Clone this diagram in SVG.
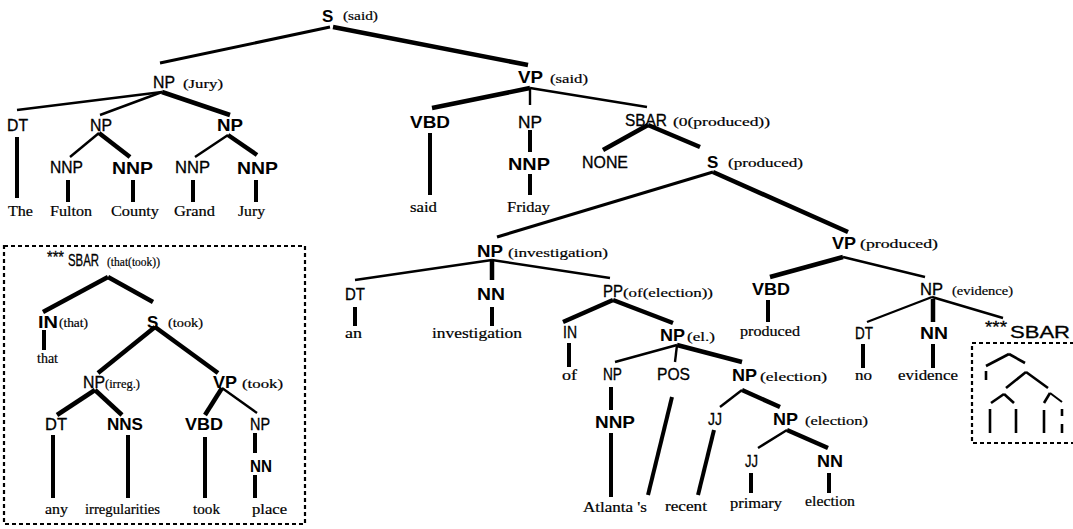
<svg xmlns="http://www.w3.org/2000/svg" width="1073" height="529" viewBox="0 0 1073 529">
<style>
  .e line { stroke: #000; stroke-linecap: butt; }
  .t { stroke-width: 2.4; }
  .m { stroke-width: 3; }
  .k { stroke-width: 4.5; }
  .v { stroke-width: 4; }
  .th { stroke-width: 2; }
  .tk { stroke-width: 2.6; }
  text { fill: #000; }
  .l { font-family: "Liberation Sans", Arial, sans-serif; font-size: 16px; stroke: #000; stroke-width: 0.3; }
  .b { font-family: "Liberation Sans", Arial, sans-serif; font-size: 17px; font-weight: bold; }
  .a { font-family: "Liberation Serif", "Times New Roman", serif; font-size: 13px; stroke: #000; stroke-width: 0.2; }
  .w { font-family: "Liberation Serif", "Times New Roman", serif; font-size: 14px; stroke: #000; stroke-width: 0.2; }
  .box { fill: none; stroke: #000; stroke-width: 2.2; stroke-dasharray: 4 3; }
</style>
<rect width="1073" height="529" fill="#fff"/>

<!-- main tree connectors -->
<g id="connectors" class="e">
  <line class="m" x1="330" y1="27" x2="160" y2="63"/>
  <line class="k" x1="333" y1="27" x2="528" y2="65"/>
  <line class="t" x1="162" y1="92" x2="17" y2="110"/>
  <line class="t" x1="162" y1="92" x2="100" y2="115"/>
  <line class="k" x1="162" y1="92" x2="230" y2="115"/>
  <line class="v" x1="17" y1="137" x2="17" y2="198"/>
  <line class="t" x1="99" y1="133" x2="70" y2="157"/>
  <line class="k" x1="99" y1="133" x2="130" y2="157"/>
  <line class="t" x1="228" y1="135" x2="195" y2="157"/>
  <line class="k" x1="228" y1="135" x2="257" y2="155"/>
  <line class="v" x1="68" y1="180" x2="68" y2="202"/>
  <line class="v" x1="133" y1="180" x2="133" y2="202"/>
  <line class="v" x1="193" y1="180" x2="193" y2="202"/>
  <line class="v" x1="256" y1="180" x2="256" y2="202"/>

  <line class="k" x1="530" y1="88" x2="432" y2="108"/>
  <line class="t" x1="530" y1="88" x2="530" y2="105"/>
  <line class="t" x1="530" y1="88" x2="647" y2="107"/>
  <line class="v" x1="430" y1="133" x2="430" y2="195"/>
  <line class="v" x1="530" y1="130" x2="530" y2="152"/>
  <line class="v" x1="530" y1="174" x2="530" y2="195"/>
  <line class="k" x1="648" y1="125" x2="603" y2="150"/>
  <line class="k" x1="648" y1="125" x2="700" y2="147"/>

  <line class="m" x1="713" y1="172" x2="497" y2="237"/>
  <line class="k" x1="713" y1="172" x2="848" y2="232"/>

  <line class="t" x1="492" y1="260" x2="355" y2="280"/>
  <line class="k" x1="492" y1="260" x2="492" y2="280"/>
  <line class="t" x1="492" y1="260" x2="610" y2="278"/>
  <line class="v" x1="355" y1="307" x2="355" y2="326"/>
  <line class="v" x1="492" y1="307" x2="492" y2="326"/>
  <line class="k" x1="613" y1="300" x2="563" y2="322"/>
  <line class="k" x1="613" y1="300" x2="673" y2="323"/>
  <line class="v" x1="569" y1="343" x2="569" y2="367"/>
  <line class="t" x1="677" y1="345" x2="615" y2="362"/>
  <line class="t" x1="677" y1="345" x2="675" y2="362"/>
  <line class="k" x1="677" y1="345" x2="742" y2="362"/>
  <line class="v" x1="611" y1="387" x2="611" y2="410"/>
  <line class="v" x1="611" y1="433" x2="611" y2="497"/>
  <line class="v" x1="672" y1="397" x2="648" y2="495"/>
  <line class="t" x1="742" y1="390" x2="720" y2="407"/>
  <line class="k" x1="742" y1="390" x2="780" y2="407"/>
  <line class="v" x1="714" y1="430" x2="698" y2="495"/>
  <line class="t" x1="787" y1="430" x2="758" y2="448"/>
  <line class="k" x1="787" y1="430" x2="828" y2="448"/>
  <line class="v" x1="751" y1="473" x2="751" y2="493"/>
  <line class="v" x1="829" y1="473" x2="829" y2="493"/>

  <line class="k" x1="843" y1="257" x2="770" y2="277"/>
  <line class="t" x1="843" y1="257" x2="925" y2="277"/>
  <line class="v" x1="768" y1="300" x2="768" y2="322"/>
  <line class="t" x1="932" y1="297" x2="867" y2="322"/>
  <line class="k" x1="933" y1="299" x2="933" y2="322"/>
  <line class="t" x1="932" y1="297" x2="1003" y2="318"/>
  <line class="v" x1="863" y1="344" x2="863" y2="368"/>
  <line class="v" x1="933" y1="344" x2="933" y2="368"/>
</g>

<!-- main tree nodes -->
<g id="n-s-said"><text class="b" x="322" y="22" font-size="19">S</text><text class="a" x="343" y="20" textLength="35" lengthAdjust="spacingAndGlyphs">(said)</text></g>
<g id="n-np-jury"><text class="l" x="153" y="88" textLength="22" lengthAdjust="spacingAndGlyphs">NP</text><text class="a" x="183" y="88" textLength="40" lengthAdjust="spacingAndGlyphs">(Jury)</text></g>
<g id="n-dt-the"><text class="l" x="7" y="131" textLength="21" lengthAdjust="spacingAndGlyphs">DT</text></g>
<g id="n-np-fulton"><text class="l" x="90" y="131" textLength="22" lengthAdjust="spacingAndGlyphs">NP</text></g>
<g id="n-np-grand"><text class="b" x="217" y="131" textLength="26" lengthAdjust="spacingAndGlyphs">NP</text></g>
<g id="n-nnp-fulton"><text class="l" x="50" y="173" textLength="33" lengthAdjust="spacingAndGlyphs">NNP</text></g>
<g id="n-nnp-county"><text class="b" x="112" y="174" textLength="41" lengthAdjust="spacingAndGlyphs">NNP</text></g>
<g id="n-nnp-grand"><text class="l" x="175" y="173" textLength="35" lengthAdjust="spacingAndGlyphs">NNP</text></g>
<g id="n-nnp-jury"><text class="b" x="237" y="174" textLength="41" lengthAdjust="spacingAndGlyphs">NNP</text></g>
<g id="w-the"><text class="w" x="8" y="216" textLength="25" lengthAdjust="spacingAndGlyphs">The</text></g>
<g id="w-fulton"><text class="w" x="50" y="216" textLength="42" lengthAdjust="spacingAndGlyphs">Fulton</text></g>
<g id="w-county"><text class="w" x="111" y="216" textLength="48" lengthAdjust="spacingAndGlyphs">County</text></g>
<g id="w-grand"><text class="w" x="174" y="216" textLength="41" lengthAdjust="spacingAndGlyphs">Grand</text></g>
<g id="w-jury"><text class="w" x="238" y="216" textLength="27" lengthAdjust="spacingAndGlyphs">Jury</text></g>

<g id="n-vp-said"><text class="b" x="518" y="83" textLength="25" lengthAdjust="spacingAndGlyphs">VP</text><text class="a" x="550" y="83" textLength="38" lengthAdjust="spacingAndGlyphs">(said)</text></g>
<g id="n-vbd-said"><text class="b" x="410" y="128" textLength="40" lengthAdjust="spacingAndGlyphs">VBD</text></g>
<g id="n-np-friday"><text class="l" x="518" y="128" textLength="24" lengthAdjust="spacingAndGlyphs">NP</text></g>
<g id="n-sbar-produced"><text class="l" x="625" y="126" textLength="42" lengthAdjust="spacingAndGlyphs">SBAR</text><text class="a" x="673" y="126" textLength="97" lengthAdjust="spacingAndGlyphs">(0(produced))</text></g>
<g id="w-said"><text class="w" x="410" y="212" textLength="27" lengthAdjust="spacingAndGlyphs">said</text></g>
<g id="n-nnp-friday"><text class="b" x="508" y="170" textLength="42" lengthAdjust="spacingAndGlyphs">NNP</text></g>
<g id="w-friday"><text class="w" x="507" y="212" textLength="43" lengthAdjust="spacingAndGlyphs">Friday</text></g>
<g id="n-none"><text class="l" x="582" y="168" textLength="46" lengthAdjust="spacingAndGlyphs">NONE</text></g>
<g id="n-s-produced"><text class="b" x="707" y="168" font-size="19">S</text><text class="a" x="728" y="167" textLength="75" lengthAdjust="spacingAndGlyphs">(produced)</text></g>

<g id="n-np-investigation"><text class="b" x="477" y="257" textLength="26" lengthAdjust="spacingAndGlyphs">NP</text><text class="a" x="508" y="257" textLength="100" lengthAdjust="spacingAndGlyphs">(investigation)</text></g>
<g id="n-dt-an"><text class="l" x="345" y="300" textLength="20" lengthAdjust="spacingAndGlyphs">DT</text></g>
<g id="n-nn-investigation"><text class="b" x="477" y="300" textLength="28" lengthAdjust="spacingAndGlyphs">NN</text></g>
<g id="n-pp"><text class="l" x="603" y="297" textLength="20" lengthAdjust="spacingAndGlyphs">PP</text><text class="a" x="623" y="297" textLength="90" lengthAdjust="spacingAndGlyphs">(of(election))</text></g>
<g id="w-an"><text class="w" x="345" y="338" textLength="17" lengthAdjust="spacingAndGlyphs">an</text></g>
<g id="w-investigation"><text class="w" x="432" y="338" textLength="90" lengthAdjust="spacingAndGlyphs">investigation</text></g>
<g id="n-in-of"><text class="l" x="563" y="338" textLength="14" lengthAdjust="spacingAndGlyphs">IN</text></g>
<g id="n-np-el"><text class="b" x="660" y="341" textLength="25" lengthAdjust="spacingAndGlyphs">NP</text><text class="a" x="687" y="341" textLength="28" lengthAdjust="spacingAndGlyphs">(el.)</text></g>
<g id="w-of"><text class="w" x="562" y="380" textLength="15" lengthAdjust="spacingAndGlyphs">of</text></g>
<g id="n-np-atlanta"><text class="l" x="603" y="380" textLength="19" lengthAdjust="spacingAndGlyphs">NP</text></g>
<g id="n-pos"><text class="l" x="657" y="380" textLength="33" lengthAdjust="spacingAndGlyphs">POS</text></g>
<g id="n-np-election1"><text class="b" x="732" y="381" textLength="25" lengthAdjust="spacingAndGlyphs">NP</text><text class="a" x="760" y="381" textLength="67" lengthAdjust="spacingAndGlyphs">(election)</text></g>
<g id="n-nnp-atlanta"><text class="b" x="595" y="428" textLength="40" lengthAdjust="spacingAndGlyphs">NNP</text></g>
<g id="n-jj-recent"><text class="l" x="708" y="425" textLength="14" lengthAdjust="spacingAndGlyphs">JJ</text></g>
<g id="n-np-election2"><text class="b" x="773" y="425" textLength="25" lengthAdjust="spacingAndGlyphs">NP</text><text class="a" x="805" y="425" textLength="63" lengthAdjust="spacingAndGlyphs">(election)</text></g>
<g id="n-jj-primary"><text class="l" x="745" y="467" textLength="13" lengthAdjust="spacingAndGlyphs">JJ</text></g>
<g id="n-nn-election"><text class="b" x="817" y="467" textLength="26" lengthAdjust="spacingAndGlyphs">NN</text></g>
<g id="w-atlanta"><text class="w" x="583" y="512" textLength="64" lengthAdjust="spacingAndGlyphs">Atlanta 's</text></g>
<g id="w-recent"><text class="w" x="665" y="511" textLength="42" lengthAdjust="spacingAndGlyphs">recent</text></g>
<g id="w-primary"><text class="w" x="730" y="508" textLength="52" lengthAdjust="spacingAndGlyphs">primary</text></g>
<g id="w-election"><text class="w" x="805" y="506" textLength="50" lengthAdjust="spacingAndGlyphs">election</text></g>

<g id="n-vp-produced"><text class="b" x="832" y="249" textLength="24" lengthAdjust="spacingAndGlyphs">VP</text><text class="a" x="860" y="248" textLength="78" lengthAdjust="spacingAndGlyphs">(produced)</text></g>
<g id="n-vbd-produced"><text class="b" x="752" y="295" textLength="38" lengthAdjust="spacingAndGlyphs">VBD</text></g>
<g id="n-np-evidence"><text class="l" x="920" y="295" textLength="23" lengthAdjust="spacingAndGlyphs">NP</text><text class="a" x="952" y="295" textLength="61" lengthAdjust="spacingAndGlyphs">(evidence)</text></g>
<g id="w-produced"><text class="w" x="740" y="336" textLength="60" lengthAdjust="spacingAndGlyphs">produced</text></g>
<g id="n-dt-no"><text class="l" x="855" y="339" textLength="18" lengthAdjust="spacingAndGlyphs">DT</text></g>
<g id="n-nn-evidence"><text class="b" x="920" y="339" textLength="28" lengthAdjust="spacingAndGlyphs">NN</text></g>
<g id="n-sbar-star"><text class="l" x="985" y="333" textLength="22" lengthAdjust="spacingAndGlyphs">***</text><text class="l" x="1010" y="338" font-size="20" textLength="60" lengthAdjust="spacingAndGlyphs">SBAR</text></g>
<g id="w-no"><text class="w" x="855" y="380" textLength="17" lengthAdjust="spacingAndGlyphs">no</text></g>
<g id="w-evidence"><text class="w" x="898" y="380" textLength="60" lengthAdjust="spacingAndGlyphs">evidence</text></g>

<!-- inset: expanded SBAR -->
<rect class="box" x="4" y="246" width="301" height="278"/>
<g id="inset">
  <g id="inset-connectors" class="e">
    <line class="k" x1="108" y1="277" x2="43" y2="312"/>
    <line class="k" x1="108" y1="277" x2="153" y2="302"/>
    <line class="v" x1="44" y1="330" x2="44" y2="350"/>
    <line class="k" x1="155" y1="327" x2="98" y2="373"/>
    <line class="k" x1="155" y1="327" x2="218" y2="373"/>
    <line class="k" x1="95" y1="390" x2="57" y2="415"/>
    <line class="k" x1="95" y1="390" x2="122" y2="415"/>
    <line class="k" x1="222" y1="388" x2="205" y2="415"/>
    <line class="t" x1="222" y1="388" x2="257" y2="413"/>
    <line class="v" x1="53" y1="435" x2="53" y2="498"/>
    <line class="v" x1="128" y1="435" x2="128" y2="498"/>
    <line class="v" x1="205" y1="437" x2="205" y2="498"/>
    <line class="v" x1="255" y1="433" x2="255" y2="453"/>
    <line class="v" x1="255" y1="475" x2="255" y2="498"/>
  </g>
  <g id="i-sbar"><text class="l" x="47" y="263" font-size="12" textLength="17" lengthAdjust="spacingAndGlyphs">***</text><text class="l" x="68" y="266" font-size="12" textLength="31" lengthAdjust="spacingAndGlyphs">SBAR</text><text class="a" x="107" y="266" font-size="12" textLength="53" lengthAdjust="spacingAndGlyphs">(that(took))</text></g>
  <g id="i-in"><text class="b" x="38" y="328" textLength="20" lengthAdjust="spacingAndGlyphs">IN</text><text class="a" x="59" y="327" textLength="29" lengthAdjust="spacingAndGlyphs">(that)</text></g>
  <g id="i-s"><text class="b" x="147" y="328" font-size="18">S</text><text class="a" x="168" y="327" textLength="35" lengthAdjust="spacingAndGlyphs">(took)</text></g>
  <g id="i-w-that"><text class="w" x="37" y="363" textLength="21" lengthAdjust="spacingAndGlyphs">that</text></g>
  <g id="i-np"><text class="l" x="83" y="388" textLength="22" lengthAdjust="spacingAndGlyphs">NP</text><text class="a" x="105" y="388" textLength="35" lengthAdjust="spacingAndGlyphs">(irreg.)</text></g>
  <g id="i-vp"><text class="b" x="213" y="388" textLength="24" lengthAdjust="spacingAndGlyphs">VP</text><text class="a" x="242" y="388" textLength="41" lengthAdjust="spacingAndGlyphs">(took)</text></g>
  <g id="i-dt"><text class="l" x="45" y="430" textLength="22" lengthAdjust="spacingAndGlyphs">DT</text></g>
  <g id="i-nns"><text class="b" x="107" y="430" textLength="36" lengthAdjust="spacingAndGlyphs">NNS</text></g>
  <g id="i-vbd"><text class="b" x="185" y="430" textLength="38" lengthAdjust="spacingAndGlyphs">VBD</text></g>
  <g id="i-np2"><text class="l" x="250" y="430" textLength="20" lengthAdjust="spacingAndGlyphs">NP</text></g>
  <g id="i-nn"><text class="b" x="250" y="472" textLength="22" lengthAdjust="spacingAndGlyphs">NN</text></g>
  <g id="i-w-any"><text class="w" x="45" y="514" textLength="23" lengthAdjust="spacingAndGlyphs">any</text></g>
  <g id="i-w-irregularities"><text class="w" x="85" y="514" textLength="75" lengthAdjust="spacingAndGlyphs">irregularities</text></g>
  <g id="i-w-took"><text class="w" x="193" y="514" textLength="27" lengthAdjust="spacingAndGlyphs">took</text></g>
  <g id="i-w-place"><text class="w" x="252" y="514" textLength="35" lengthAdjust="spacingAndGlyphs">place</text></g>
</g>

<!-- miniature of the inset (illegible in the source) -->
<g id="thumbnail">
  <rect class="box" x="972" y="343" width="110" height="100"/>
  <g class="e">
    <line class="tk" x1="1009" y1="354" x2="986" y2="366"/>
    <line class="tk" x1="1009" y1="354" x2="1025" y2="363"/>
    <line class="tk" x1="986" y1="371" x2="986" y2="380"/>
    <line class="tk" x1="1026" y1="372" x2="1006" y2="388"/>
    <line class="tk" x1="1026" y1="372" x2="1048" y2="388"/>
    <line class="tk" x1="1004" y1="394" x2="991" y2="403"/>
    <line class="tk" x1="1004" y1="394" x2="1014" y2="403"/>
    <line class="tk" x1="1050" y1="393" x2="1044" y2="403"/>
    <line class="th" x1="1050" y1="393" x2="1062" y2="402"/>
    <line class="tk" x1="990" y1="409" x2="990" y2="433"/>
    <line class="tk" x1="1016" y1="409" x2="1016" y2="433"/>
    <line class="tk" x1="1044" y1="410" x2="1044" y2="433"/>
    <line class="tk" x1="1062" y1="409" x2="1062" y2="416"/>
    <line class="tk" x1="1062" y1="424" x2="1062" y2="433"/>
  </g>
</g>
</svg>
